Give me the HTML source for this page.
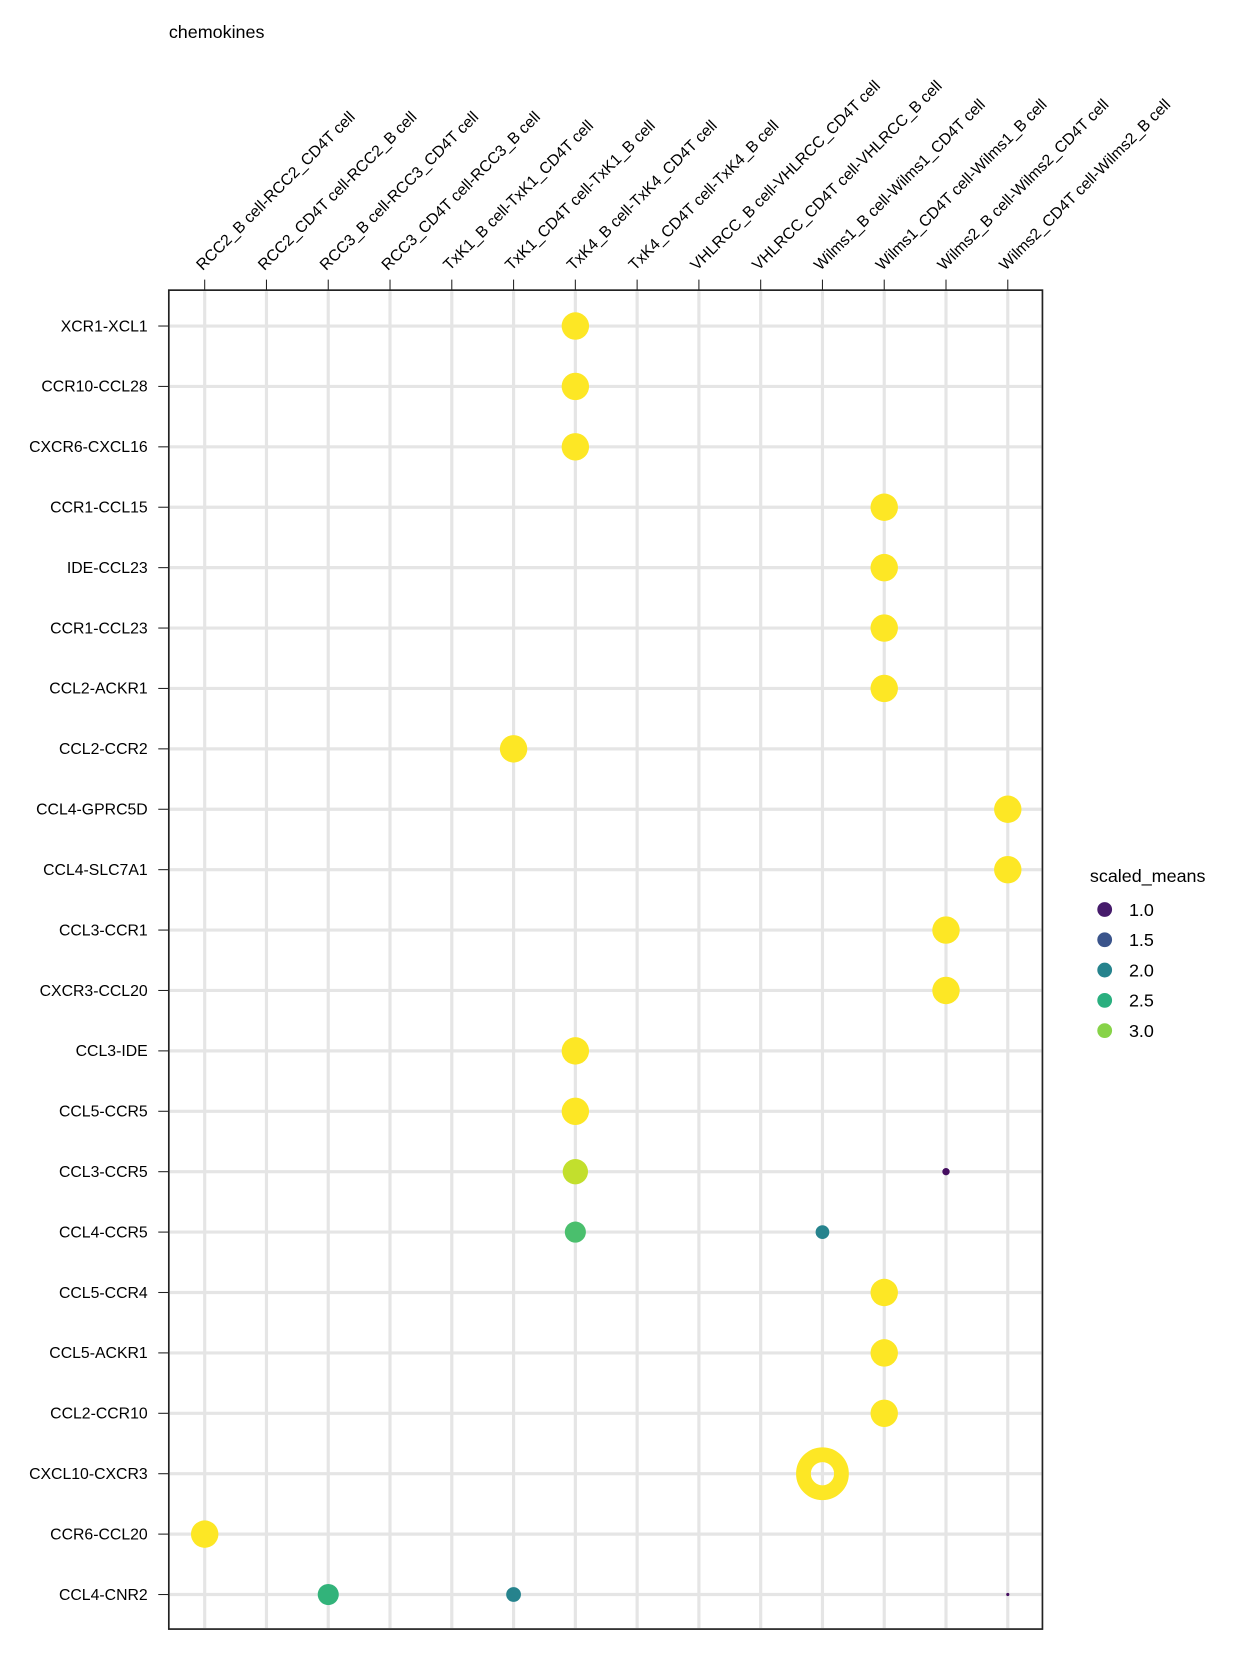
<!DOCTYPE html>
<html><head><meta charset="utf-8"><style>
html,body{margin:0;padding:0;background:#fff;}
svg{display:block;font-family:"Liberation Sans",Arial,sans-serif;}
</style></head><body>
<svg id="chart" width="1246" height="1654" viewBox="0 0 1246 1654">
<g transform="scale(1.0551)">
<text x="160" y="36" font-size="17" fill="#000">chemokines</text>
<g id="grid"></g>
<g id="xlabels"></g>
<g id="ylabels"></g>
<g id="points"></g>
<rect x="160" y="275" width="828" height="1269" fill="none" stroke="#222" stroke-width="1.6"/>
<g id="legend"></g>
</g>
</svg>
<script>
const columns = ["RCC2_B cell-RCC2_CD4T cell","RCC2_CD4T cell-RCC2_B cell","RCC3_B cell-RCC3_CD4T cell","RCC3_CD4T cell-RCC3_B cell","TxK1_B cell-TxK1_CD4T cell","TxK1_CD4T cell-TxK1_B cell","TxK4_B cell-TxK4_CD4T cell","TxK4_CD4T cell-TxK4_B cell","VHLRCC_B cell-VHLRCC_CD4T cell","VHLRCC_CD4T cell-VHLRCC_B cell","Wilms1_B cell-Wilms1_CD4T cell","Wilms1_CD4T cell-Wilms1_B cell","Wilms2_B cell-Wilms2_CD4T cell","Wilms2_CD4T cell-Wilms2_B cell"];
const rows = ["XCR1-XCL1","CCR10-CCL28","CXCR6-CXCL16","CCR1-CCL15","IDE-CCL23","CCR1-CCL23","CCL2-ACKR1","CCL2-CCR2","CCL4-GPRC5D","CCL4-SLC7A1","CCL3-CCR1","CXCR3-CCL20","CCL3-IDE","CCL5-CCR5","CCL3-CCR5","CCL4-CCR5","CCL5-CCR4","CCL5-ACKR1","CCL2-CCR10","CXCL10-CXCR3","CCR6-CCL20","CCL4-CNR2"];
const ptRow = ["XCR1-XCL1","CCR10-CCL28","CXCR6-CXCL16","CCR1-CCL15","IDE-CCL23","CCR1-CCL23","CCL2-ACKR1","CCL2-CCR2","CCL4-GPRC5D","CCL4-SLC7A1","CCL3-CCR1","CXCR3-CCL20","CCL3-IDE","CCL5-CCR5","CCL3-CCR5","CCL3-CCR5","CCL4-CCR5","CCL4-CCR5","CCL5-CCR4","CCL5-ACKR1","CCL2-CCR10","CXCL10-CXCR3","CCR6-CCL20","CCL4-CNR2","CCL4-CNR2","CCL4-CNR2"];
const ptCol = [6,6,6,11,11,11,11,5,13,13,12,12,6,6,6,12,6,10,11,11,11,10,0,2,5,13];
const ptValue = [3.6,3.6,3.6,3.6,3.6,3.6,3.6,3.6,3.6,3.6,3.6,3.6,3.6,3.6,3.25,0.9,2.7,2.0,3.6,3.6,3.6,3.6,3.6,2.55,2.0,0.9];
const ptSize = [13,13,13,13,13,13,13,13,13,13,13,13,13,13,12,3.5,10,6.5,13,13,13,25,13,10,7,1.5];
const legendValues = [1.0,1.5,2.0,2.5,3.0];
const ringRow = ["CXCL10-CXCR3"];

const NS="http://www.w3.org/2000/svg";
const X0=194, DX=58.55, Y0=309, DY=57.25;
function xPos(i){return X0+i*DX;}
function yPos(r){return Y0+rows.indexOf(r)*DY;}
const stops=["#440154","#472d7b","#3b528b","#2c728e","#21918c","#28ae80","#5ec962","#addc30","#fde725"];
function hex(c){return [1,3,5].map(i=>parseInt(c.substr(i,2),16));}
function color(v){let t=(v-0.8)/(3.5-0.8);t=Math.max(0,Math.min(1,t));const s=t*8,i=Math.min(7,Math.floor(s)),f=s-i;const a=hex(stops[i]),b=hex(stops[i+1]);return "rgb("+a.map((x,k)=>Math.round(x+(b[k]-x)*f)).join(",")+")";}
function mk(tag,attrs,parent){const e=document.createElementNS(NS,tag);for(const k in attrs)e.setAttribute(k,attrs[k]);parent.appendChild(e);return e;}
const grid=document.getElementById('grid'),xl=document.getElementById('xlabels'),yl=document.getElementById('ylabels'),pts=document.getElementById('points'),lg=document.getElementById('legend');
columns.forEach((c,i)=>{
 const l=mk('line',{x1:xPos(i),x2:xPos(i),y1:276,y2:1543,stroke:'#e5e5e5','stroke-width':3},grid);
 
 
 const t=mk('line',{x1:xPos(i),x2:xPos(i),y1:265,y2:275,stroke:'#222','stroke-width':1},xl);
 
 
 const ax=xPos(i)-2, ay=257;
 const tx=mk('text',{x:ax,y:ay,'font-size':15,fill:'#000',transform:'rotate(-45 '+ax+' '+ay+')'},xl);
 tx.textContent=c;
 
 
});
rows.forEach((r,j)=>{
 const y=yPos(r);
 const l=mk('line',{x1:161,x2:987,y1:y,y2:y,stroke:'#e5e5e5','stroke-width':3},grid);
 
 
 const t=mk('line',{x1:150,x2:160,y1:y,y2:y,stroke:'#222','stroke-width':1},yl);
 
 
 const tx=mk('text',{x:140,y:y+5,'font-size':15,fill:'#000','text-anchor':'end'},yl);
 tx.textContent=r;
 
 
});
ptRow.forEach((r,k)=>{
 const cx=xPos(ptCol[k]),cy=yPos(r),rad=ptSize[k],col=color(ptValue[k]);
 let c;
 if(ringRow.indexOf(r)>=0&&rad>20){
  c=mk('circle',{cx:cx,cy:cy,r:(rad+11)/2,fill:'none',stroke:col,'stroke-width':rad-11},pts);
 } else {
  c=mk('circle',{cx:cx,cy:cy,r:rad,fill:col},pts);
 }
 
 
});
const lt=mk('text',{x:1033,y:836,'font-size':17,fill:'#000'},lg);
lt.textContent='scaled_means';


legendValues.forEach((v,i)=>{
 const y=862+i*28.7;
 const c=mk('circle',{cx:1047,cy:y,r:7,fill:color(v)},lg);
 
 
 const t=mk('text',{x:1070,y:y+6,'font-size':17,fill:'#000'},lg);
 t.textContent=v.toFixed(1);
 
 
});
</script>
</body></html>
